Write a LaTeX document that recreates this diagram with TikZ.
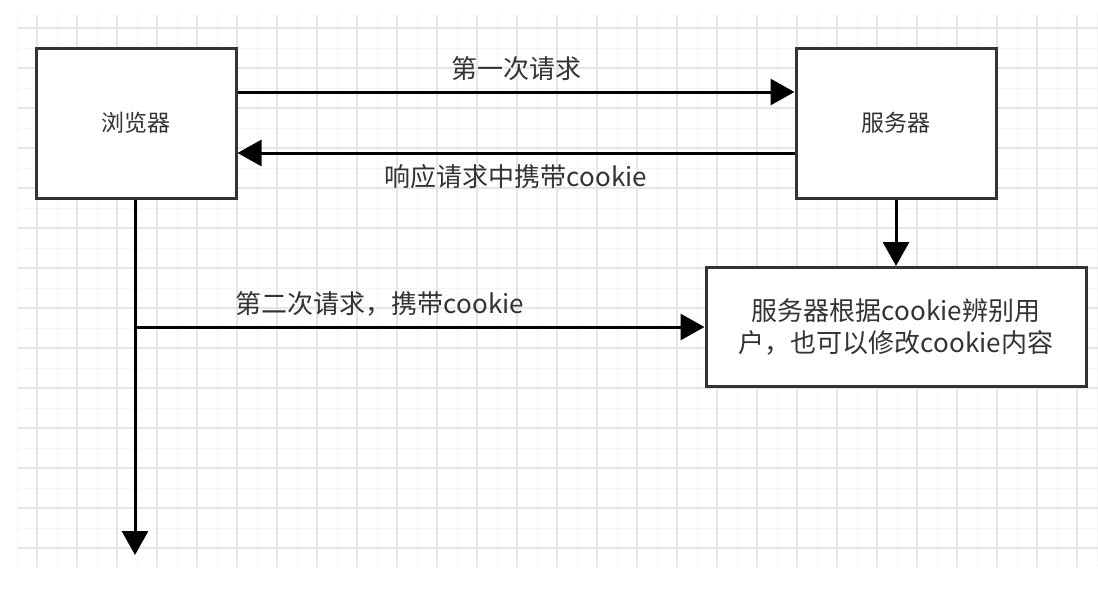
\documentclass[tikz,border=0pt]{standalone}
\usepackage{fontspec}
\setmainfont{Noto Sans CJK SC}
\usetikzlibrary{arrows.meta}
\usetikzlibrary{positioning}

\begin{document}
\begin{tikzpicture}
  [
    x=1pt, y=-1pt,
    >={Triangle[length=24pt, width=26pt]},
    box/.style   = {draw=black!80, line width=3pt, fill=white, inner sep=0pt, text=black!80},
    msg/.style   = {->, line width=3pt, black},
    lbl/.style   = {font=\fontsize{26}{32}\selectfont, text=black!80},
  ]

  \useasboundingbox (0,0) rectangle (1098,592);

  % the grid
  \def\gridleft{18}
  \def\gridtop{15}
  \def\gridbottom{567}
  \foreach \x in {17,57,...,1097}
    \draw[black!4, line width=1pt] (\x,\gridtop) -- (\x,\gridbottom);
  \foreach \y in {48,88,...,528}
    \draw[black!4, line width=1pt] (\gridleft,\y) -- (1098,\y);
  \foreach \x in {37,77,...,1077}
    \draw[black!10, line width=1.5pt] (\x,\gridtop) -- (\x,\gridbottom);
  \foreach \y in {28,68,...,548}
    \draw[black!10, line width=1.5pt] (\gridleft,\y) -- (1098,\y);

  % browser and server
  \node (browser) at (136,123) [box, minimum width=200pt, minimum height=150pt, font=\fontsize{23}{28}\selectfont] {浏览器};
  \node (server) at (896,123) [box, minimum width=200pt, minimum height=150pt, font=\fontsize{23}{28}\selectfont] {服务器};

  % result of the server
  \node (result) at (896,327) [box, minimum width=380pt, minimum height=119pt, align=center, lbl] {服务器根据cookie辨别用\\户，也可以修改cookie内容};

  % first request and response
  \draw[msg] ([yshift=31pt]browser.east) -- node (req1) [lbl, above=6pt] {第一次请求} ([yshift=31pt]server.west);
  \draw[msg] ([yshift=-30pt]server.west) -- node (resp1) [lbl, below=7pt] {响应请求中携带cookie} ([yshift=-30pt]browser.east);

  % server to result
  \draw[msg] (server.south) -- (result.north);

  % time line of the browser
  \coordinate (tend) at (135,555);
  \draw[msg] (browser.south -| tend) -- (tend);

  % second request
  \draw[msg] (tend |- result.west) -- node (req2) [lbl, above=6pt, pos=0.43] {第二次请求，携带cookie} (result.west);
\end{tikzpicture}
\end{document}
